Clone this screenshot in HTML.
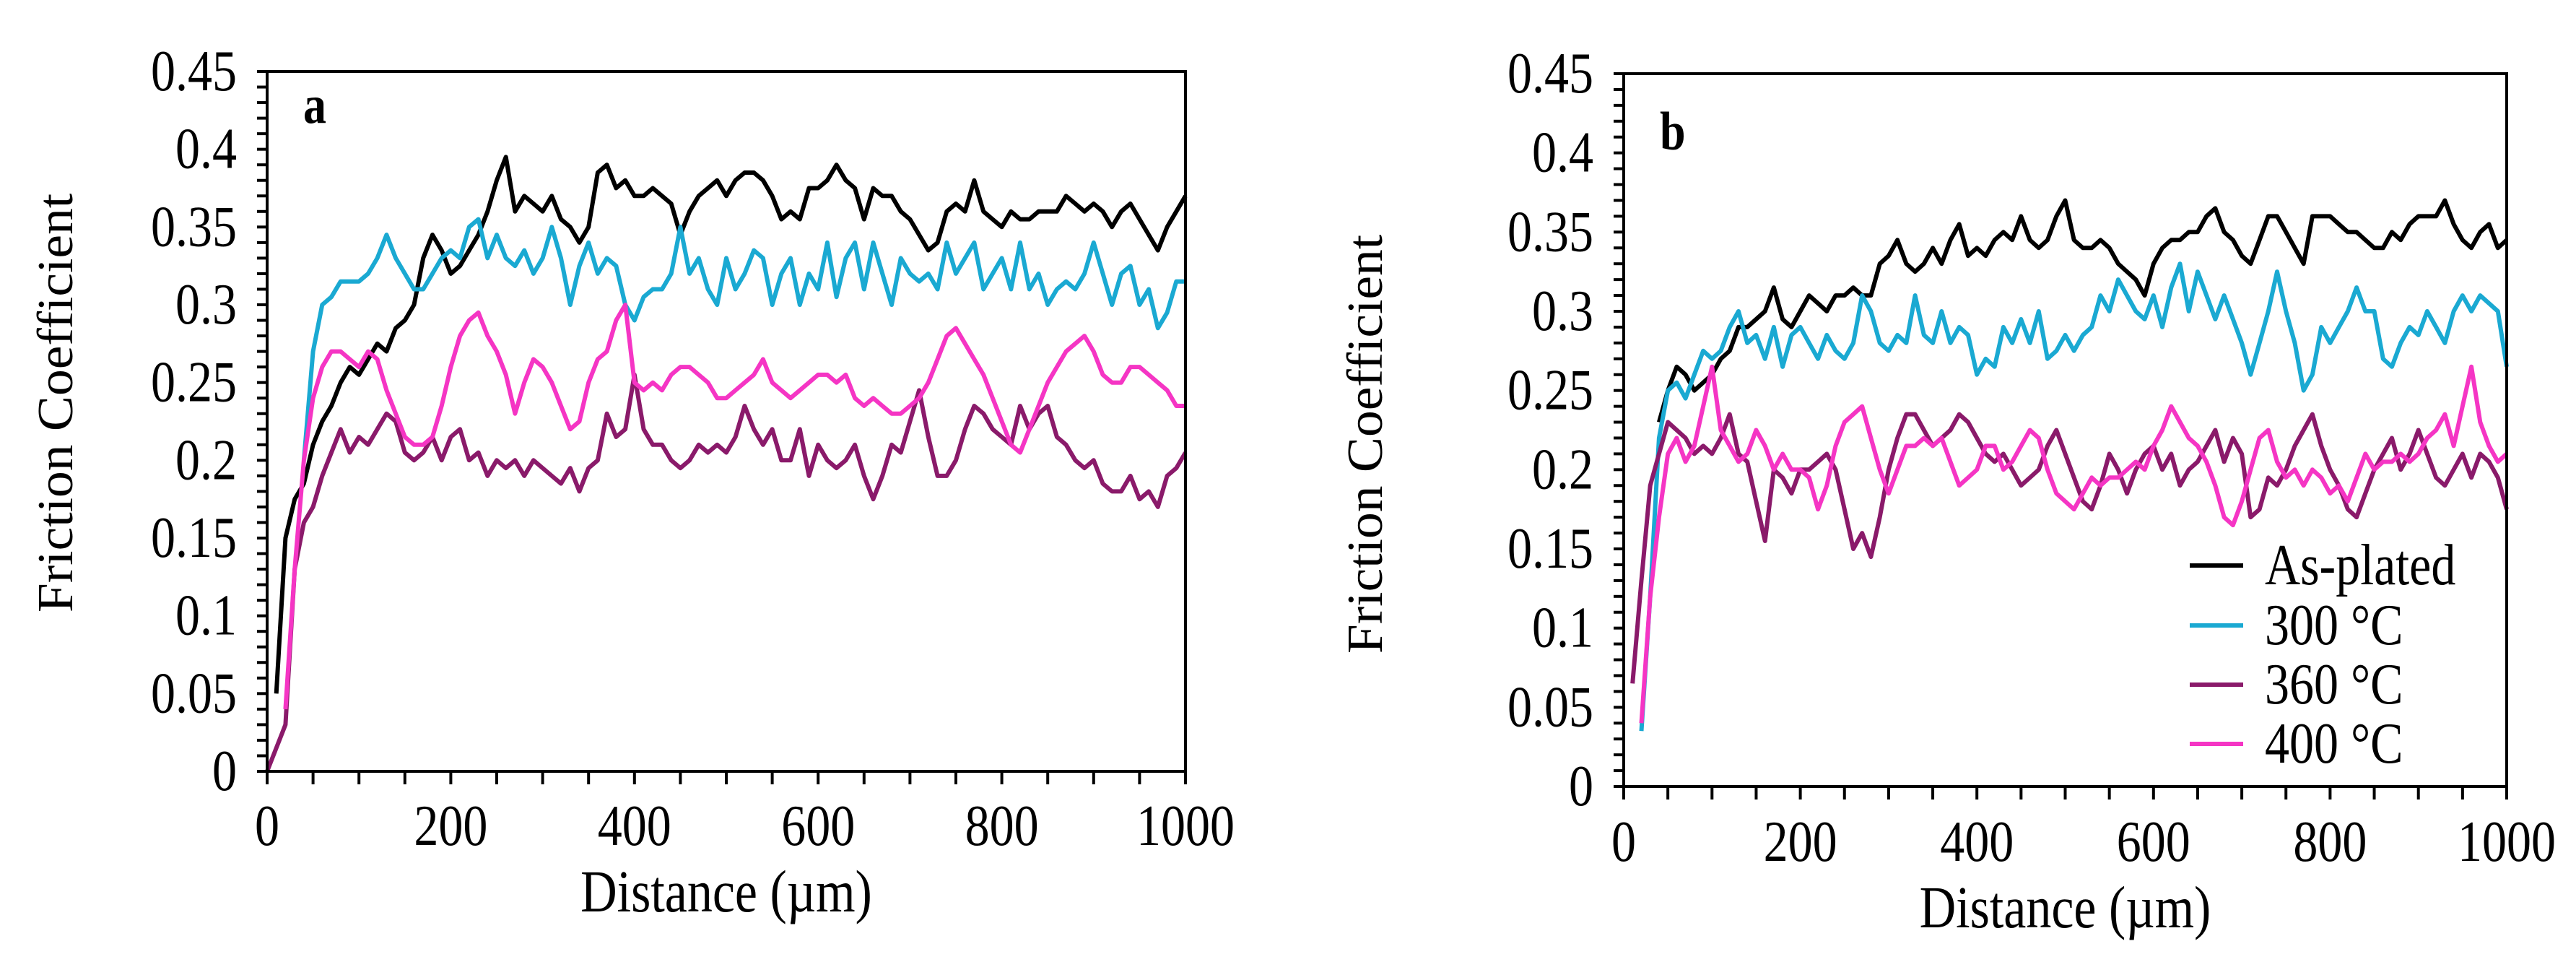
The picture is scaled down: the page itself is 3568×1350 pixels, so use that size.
<!DOCTYPE html>
<html><head><meta charset="utf-8"><style>
html,body{margin:0;padding:0;background:#fff;}
svg{display:block;font-family:"Liberation Serif",serif;}
</style></head><body>
<svg id="fig" width="3568" height="1350" viewBox="0 0 3568 1350"></svg>
<script>
const distances=[0,10,20,30,40,50,60,70,80,90,100,110,120,130,140,150,160,170,180,190,200,210,220,230,240,250,260,270,280,290,300,310,320,330,340,350,360,370,380,390,400,410,420,430,440,450,460,470,480,490,500,510,520,530,540,550,560,570,580,590,600,610,620,630,640,650,660,670,680,690,700,710,720,730,740,750,760,770,780,790,800,810,820,830,840,850,860,870,880,890,900,910,920,930,940,950,960,970,980,990,1000];
const yTicks=[0,0.05,0.1,0.15,0.2,0.25,0.3,0.35,0.4,0.45];
const yTickLabels=["0","0.05","0.1","0.15","0.2","0.25","0.3","0.35","0.4","0.45"];
const xTicks=[0,200,400,600,800,1000];
const xTickLabels=["0","200","400","600","800","1000"];
const seriesNames=["As-plated","300 °C","360 °C","400 °C"];
const aAsPlated=[null,0.05,0.15,0.175,0.185,0.21,0.225,0.235,0.25,0.26,0.255,0.265,0.275,0.27,0.285,0.29,0.3,0.33,0.345,0.335,0.32,0.325,0.335,0.345,0.36,0.38,0.395,0.36,0.37,0.365,0.36,0.37,0.355,0.35,0.34,0.35,0.385,0.39,0.375,0.38,0.37,0.37,0.375,0.37,0.365,0.345,0.36,0.37,0.375,0.38,0.37,0.38,0.385,0.385,0.38,0.37,0.355,0.36,0.355,0.375,0.375,0.38,0.39,0.38,0.375,0.355,0.375,0.37,0.37,0.36,0.355,0.345,0.335,0.34,0.36,0.365,0.36,0.38,0.36,0.355,0.35,0.36,0.355,0.355,0.36,0.36,0.36,0.37,0.365,0.36,0.365,0.36,0.35,0.36,0.365,0.355,0.345,0.335,0.35,0.36,0.37];
const a300=[null,null,null,null,0.2,0.27,0.3,0.305,0.315,0.315,0.315,0.32,0.33,0.345,0.33,0.32,0.31,0.31,0.32,0.33,0.335,0.33,0.35,0.355,0.33,0.345,0.33,0.325,0.335,0.32,0.33,0.35,0.33,0.3,0.325,0.34,0.32,0.33,0.325,0.3,0.29,0.305,0.31,0.31,0.32,0.35,0.32,0.33,0.31,0.3,0.33,0.31,0.32,0.335,0.33,0.3,0.32,0.33,0.3,0.32,0.31,0.34,0.305,0.33,0.34,0.31,0.34,0.32,0.3,0.33,0.32,0.315,0.32,0.31,0.34,0.32,0.33,0.34,0.31,0.32,0.33,0.31,0.34,0.31,0.32,0.3,0.31,0.315,0.31,0.32,0.34,0.32,0.3,0.32,0.325,0.3,0.31,0.285,0.295,0.315,0.315];
const a360=[0,0.015,0.03,0.13,0.16,0.17,0.19,0.205,0.22,0.205,0.215,0.21,0.22,0.23,0.225,0.205,0.2,0.205,0.215,0.2,0.215,0.22,0.2,0.205,0.19,0.2,0.195,0.2,0.19,0.2,0.195,0.19,0.185,0.195,0.18,0.195,0.2,0.23,0.215,0.22,0.255,0.22,0.21,0.21,0.2,0.195,0.2,0.21,0.205,0.21,0.205,0.215,0.235,0.22,0.21,0.22,0.2,0.2,0.22,0.19,0.21,0.2,0.195,0.2,0.21,0.19,0.175,0.19,0.21,0.205,0.225,0.245,0.215,0.19,0.19,0.2,0.22,0.235,0.23,0.22,0.215,0.21,0.235,0.22,0.23,0.235,0.215,0.21,0.2,0.195,0.2,0.185,0.18,0.18,0.19,0.175,0.18,0.17,0.19,0.195,0.205];
const a400=[null,null,0.04,0.13,0.2,0.24,0.26,0.27,0.27,0.265,0.26,0.27,0.265,0.245,0.23,0.215,0.21,0.21,0.215,0.235,0.26,0.28,0.29,0.295,0.28,0.27,0.255,0.23,0.25,0.265,0.26,0.25,0.235,0.22,0.225,0.25,0.265,0.27,0.29,0.3,0.25,0.245,0.25,0.245,0.255,0.26,0.26,0.255,0.25,0.24,0.24,0.245,0.25,0.255,0.265,0.25,0.245,0.24,0.245,0.25,0.255,0.255,0.25,0.255,0.24,0.235,0.24,0.235,0.23,0.23,0.235,0.24,0.25,0.265,0.28,0.285,0.275,0.265,0.255,0.24,0.225,0.21,0.205,0.22,0.235,0.25,0.26,0.27,0.275,0.28,0.27,0.255,0.25,0.25,0.26,0.26,0.255,0.25,0.245,0.235,0.235];
const bAsPlated=[null,null,null,null,0.23,0.25,0.265,0.26,0.25,0.255,0.26,0.27,0.275,0.29,0.29,0.295,0.3,0.315,0.295,0.29,0.3,0.31,0.305,0.3,0.31,0.31,0.315,0.31,0.31,0.33,0.335,0.345,0.33,0.325,0.33,0.34,0.33,0.345,0.355,0.335,0.34,0.335,0.345,0.35,0.345,0.36,0.345,0.34,0.345,0.36,0.37,0.345,0.34,0.34,0.345,0.34,0.33,0.325,0.32,0.31,0.33,0.34,0.345,0.345,0.35,0.35,0.36,0.365,0.35,0.345,0.335,0.33,0.345,0.36,0.36,0.35,0.34,0.33,0.36,0.36,0.36,0.355,0.35,0.35,0.345,0.34,0.34,0.35,0.345,0.355,0.36,0.36,0.36,0.37,0.355,0.345,0.34,0.35,0.355,0.34,0.345];
const b300=[null,null,0.035,0.12,0.22,0.25,0.255,0.245,0.26,0.275,0.27,0.275,0.29,0.3,0.28,0.285,0.27,0.29,0.265,0.285,0.29,0.28,0.27,0.285,0.275,0.27,0.28,0.31,0.3,0.28,0.275,0.285,0.28,0.31,0.285,0.28,0.3,0.28,0.29,0.285,0.26,0.27,0.265,0.29,0.28,0.295,0.28,0.3,0.27,0.275,0.285,0.275,0.285,0.29,0.31,0.3,0.32,0.31,0.3,0.295,0.31,0.29,0.315,0.33,0.3,0.325,0.31,0.295,0.31,0.295,0.28,0.26,0.28,0.3,0.325,0.3,0.28,0.25,0.26,0.29,0.28,0.29,0.3,0.315,0.3,0.3,0.27,0.265,0.28,0.29,0.285,0.3,0.29,0.28,0.3,0.31,0.3,0.31,0.305,0.3,0.265];
const b360=[null,0.065,0.13,0.19,0.21,0.23,0.225,0.22,0.21,0.215,0.21,0.22,0.235,0.21,0.205,0.18,0.155,0.2,0.195,0.185,0.2,0.2,0.205,0.21,0.2,0.175,0.15,0.16,0.145,0.17,0.2,0.22,0.235,0.235,0.225,0.215,0.22,0.225,0.235,0.23,0.22,0.21,0.205,0.21,0.2,0.19,0.195,0.2,0.215,0.225,0.21,0.195,0.18,0.175,0.19,0.21,0.2,0.185,0.2,0.21,0.215,0.2,0.21,0.19,0.2,0.205,0.215,0.225,0.205,0.22,0.21,0.17,0.175,0.195,0.19,0.2,0.215,0.225,0.235,0.215,0.2,0.19,0.175,0.17,0.185,0.2,0.21,0.22,0.2,0.21,0.225,0.21,0.195,0.19,0.2,0.21,0.195,0.21,0.205,0.195,0.175];
const b400=[null,null,0.04,0.12,0.17,0.21,0.22,0.205,0.215,0.24,0.265,0.225,0.215,0.205,0.21,0.225,0.215,0.2,0.21,0.2,0.2,0.195,0.175,0.19,0.215,0.23,0.235,0.24,0.22,0.2,0.185,0.2,0.215,0.215,0.22,0.215,0.22,0.205,0.19,0.195,0.2,0.215,0.215,0.2,0.205,0.215,0.225,0.22,0.2,0.185,0.18,0.175,0.185,0.195,0.19,0.195,0.195,0.2,0.205,0.2,0.215,0.225,0.24,0.23,0.22,0.215,0.205,0.19,0.17,0.165,0.18,0.2,0.22,0.225,0.205,0.195,0.2,0.19,0.2,0.195,0.185,0.19,0.18,0.195,0.21,0.2,0.205,0.205,0.21,0.205,0.21,0.22,0.225,0.235,0.215,0.24,0.265,0.23,0.215,0.205,0.21];
const colors=["#000000","#1aa9d2","#8a1a6a","#f535c4"];

const NS="http://www.w3.org/2000/svg";
const svg=document.getElementById('fig');
function mk(tag,attrs,parent){const e=document.createElementNS(NS,tag);for(const k in attrs)e.setAttribute(k,attrs[k]);(parent||svg).appendChild(e);return e;}
// text stretched vertically like the reference
function stext(parent,x,y,str,size,anchor,extra){
  const t=mk('text',Object.assign({x:0,y:0,'text-anchor':anchor,'font-size':size,fill:'#000',transform:`translate(${x},${y}) scale(1,1.18)`},extra||{}),parent);
  t.textContent=str;return t;
}

function drawChart(cfg){
  const g=mk('g',{});
  
  
  const xs=v=>cfg.x0+(v/1000)*(cfg.x1-cfg.x0);
  const ys=v=>cfg.y1-(v/0.45)*(cfg.y1-cfg.y0);
  cfg.series.forEach((vals,si)=>{
    let d="",pen=false;
    vals.forEach((v,i)=>{ if(v===null){pen=false;return;} d+=(pen?"L":"M")+xs(distances[i]).toFixed(1)+" "+ys(v).toFixed(1)+" "; pen=true; });
    const p=mk('path',{d:d,fill:'none',stroke:colors[si],'stroke-width':6,'stroke-linejoin':'round'},g);
    
    
  });
  const fr=mk('rect',{x:cfg.x0,y:cfg.y0,width:cfg.x1-cfg.x0,height:cfg.y1-cfg.y0,fill:'none',stroke:'#000','stroke-width':4},g);
  
  
  for(let k=0;k<=45;k++){mk('line',{x1:cfg.x0-14,x2:cfg.x0,y1:ys(k/100),y2:ys(k/100),stroke:'#000','stroke-width':4},g);}
  for(let k=0;k<=20;k++){mk('line',{x1:xs(k*50),x2:xs(k*50),y1:cfg.y1,y2:cfg.y1+18,stroke:'#000','stroke-width':4},g);}
  yTicks.forEach((v,i)=>{const t=stext(g,cfg.x0-42,ys(v)+26,yTickLabels[i],68,'end');
    
    });
  xTicks.forEach((v,i)=>{const t=stext(g,xs(v),cfg.xLabY,xTickLabels[i],68,'middle');
    
    });
  const xt=stext(g,(cfg.x0+cfg.x1)/2,cfg.xTitleY,"Distance (µm)",70,'middle');
  
  
  const yt=mk('text',{x:0,y:0,'text-anchor':'middle','font-size':70,fill:'#000',transform:`translate(${cfg.yTitleX},${cfg.yTitleY}) rotate(-90) scale(1.05,1)`},g);
  yt.textContent="Friction Coefficient";
  
  
  const pl=stext(g,cfg.x0+50,cfg.panelY,cfg.panel,64,'start',{'font-weight':'bold'});
  
  
}

drawChart({name:'chart-a',panel:'a',x0:370,x1:1642,y0:99,y1:1068,xLabY:1170,xTitleY:1262,yTitleX:100,yTitleY:558,panelY:170,series:[aAsPlated,a300,a360,a400]});
drawChart({name:'chart-b',panel:'b',x0:2249,x1:3472,y0:102,y1:1089,xLabY:1192,xTitleY:1284,yTitleX:1914,yTitleY:615,panelY:207,series:[bAsPlated,b300,b360,b400]});

const lg=mk('g',{});


const legY=[783,866,948,1030];
seriesNames.forEach((n,i)=>{
  const e=mk('g',{},lg);
  
  
  mk('line',{x1:3033,x2:3107,y1:legY[i],y2:legY[i],stroke:colors[i],'stroke-width':6},e);
  stext(e,3137,legY[i]+26,n,68,'start');
});
</script>
</body></html>
